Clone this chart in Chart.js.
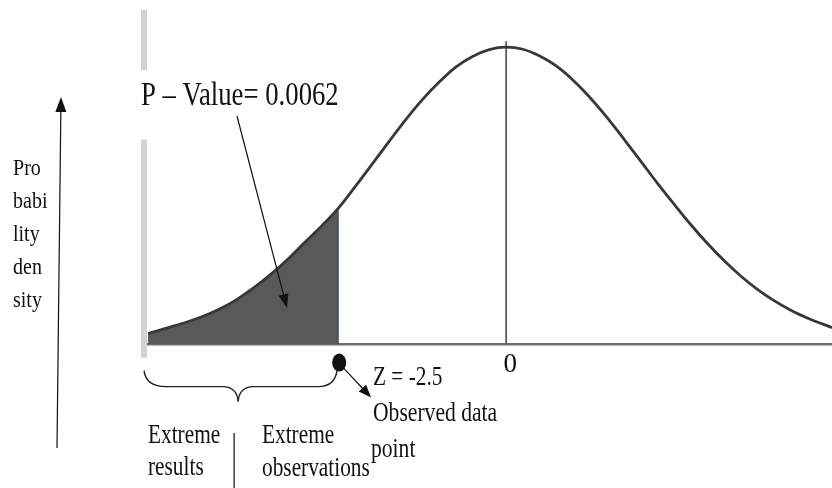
<!DOCTYPE html>
<html lang="en">
<head>
<meta charset="UTF-8">
<title>P-Value</title>
<script src="https://cdn.jsdelivr.net/npm/chart.js"></script>
<style>
  html, body { margin: 0; padding: 0; background: #fff; }
  .wrap { width: 832px; height: 488px; position: relative; }
</style>
</head>
<body>
<div class="wrap"><canvas id="pvalueChart"></canvas></div>
<script>
// bell curve, heights relative to the peak, read every quarter step of z
const zValues = [-5.33, -5.0, -4.75, -4.5, -4.25, -4.0, -3.75, -3.5, -3.25, -3.0, -2.75, -2.5,
                 -2.25, -2.0, -1.75, -1.5, -1.25, -1.0, -0.75, -0.5, -0.25, 0,
                 0.25, 0.5, 0.75, 1.0, 1.25, 1.5, 1.75, 2.0, 2.25, 2.5, 2.75, 3.0,
                 3.25, 3.5, 3.75, 4.0, 4.25, 4.5, 4.85];
const density = [0.037, 0.059, 0.076, 0.096, 0.121, 0.153, 0.192, 0.237, 0.287, 0.343, 0.398, 0.458,
                 0.530, 0.605, 0.681, 0.755, 0.823, 0.882, 0.933, 0.969, 0.992, 1.0,
                 0.993, 0.970, 0.936, 0.888, 0.830, 0.764, 0.692, 0.618, 0.543, 0.472, 0.403, 0.339,
                 0.281, 0.229, 0.184, 0.146, 0.114, 0.088, 0.057];
const observedZ = -2.5;
const pValue = '0.0062';
const xTicks = [0];
const leftLabel = ['Pro', 'babi', 'lity', 'den', 'sity'];

const curve = zValues.map((z, i) => ({ x: z, y: density[i] }));
const tail = curve.filter(p => p.x <= observedZ);
const tailTop = density[zValues.indexOf(observedZ)];

const SERIF = '"Liberation Serif", "Times New Roman", serif';

// narrow serif text, squeezed horizontally
function squeezed(ctx, text, px, py, size, sx) {
    ctx.save();
    ctx.font = size + 'px ' + SERIF;
    ctx.fillStyle = '#111';
    ctx.textBaseline = 'alphabetic';
    ctx.translate(px, py);
    ctx.scale(sx, 1);
    ctx.fillText(text, 0, 0);
    ctx.restore();
}

function arrow(ctx, x1, y1, x2, y2, len, half) {
    const a = Math.atan2(y2 - y1, x2 - x1);
    ctx.beginPath();
    ctx.moveTo(x1, y1);
    ctx.lineTo(x2 - Math.cos(a) * len * 0.8, y2 - Math.sin(a) * len * 0.8);
    ctx.stroke();
    ctx.beginPath();
    ctx.moveTo(x2, y2);
    ctx.lineTo(x2 - Math.cos(a) * len - Math.sin(a) * half, y2 - Math.sin(a) * len + Math.cos(a) * half);
    ctx.lineTo(x2 - Math.cos(a) * len + Math.sin(a) * half, y2 - Math.sin(a) * len - Math.cos(a) * half);
    ctx.closePath();
    ctx.fill();
}

const annotations = {
    id: 'annotations',
    afterDraw(chart) {
        const { ctx, scales: { x, y } } = chart;
        const base = y.getPixelForValue(0);
        const xo = x.getPixelForValue(observedZ);
        const xl = x.getPixelForValue(zValues[0]) - 4;

        ctx.save();
        ctx.strokeStyle = '#111';
        ctx.fillStyle = '#111';
        ctx.lineWidth = 1.2;

        // vertical arrow for the density axis
        arrow(ctx, 57, 448, 61, 97, 15, 5.5);

        leftLabel.forEach((t, i) => squeezed(ctx, t, 13, 175 + i * 33, 23, 0.87));

        squeezed(ctx, 'P \u2013 Value= ' + pValue, 141, 105, 33, 0.81);
        arrow(ctx, 237, 116, 287, 308, 14, 5);

        // observed point below the axis
        ctx.beginPath();
        ctx.ellipse(xo + 1, base + 18, 7, 9, 0, 0, Math.PI * 2);
        ctx.fill();
        arrow(ctx, xo + 5, base + 23, xo + 33, base + 53, 13, 5);

        squeezed(ctx, 'Z = ' + observedZ, 373, 385, 27, 0.79);
        squeezed(ctx, 'Observed data', 373, 421, 27, 0.8);
        squeezed(ctx, 'point', 371, 457, 27, 0.8);

        // brace under the tail
        const mid = (xl + xo) / 2 - 3;
        ctx.lineWidth = 1.4;
        ctx.strokeStyle = '#222';
        ctx.beginPath();
        ctx.moveTo(xl, base + 26);
        ctx.quadraticCurveTo(xl + 2, base + 42, xl + 22, base + 42);
        ctx.lineTo(mid - 14, base + 42);
        ctx.quadraticCurveTo(mid - 1, base + 43, mid, base + 57);
        ctx.quadraticCurveTo(mid + 1, base + 43, mid + 14, base + 42);
        ctx.lineTo(xo - 20, base + 42);
        ctx.quadraticCurveTo(xo - 3, base + 42, xo - 1, base + 25);
        ctx.stroke();

        ctx.lineWidth = 1.2;
        ctx.strokeStyle = '#111';
        ctx.beginPath();
        ctx.moveTo(mid - 4, 433);
        ctx.lineTo(mid - 4, 488);
        ctx.stroke();

        squeezed(ctx, 'Extreme', 148, 443, 27, 0.79);
        squeezed(ctx, 'results', 148, 475, 27, 0.79);
        squeezed(ctx, 'Extreme', 262, 443, 27, 0.79);
        squeezed(ctx, 'observations', 262, 476, 27, 0.79);
        ctx.restore();
    }
};

new Chart(document.getElementById('pvalueChart'), {
    type: 'line',
    data: {
        datasets: [
            {
                data: curve,
                borderColor: '#383838',
                borderWidth: 2.8,
                pointRadius: 0,
                cubicInterpolationMode: 'monotone',
                fill: false,
                order: 1
            },
            {
                data: [{ x: 0, y: 0 }, { x: 0, y: 1.02 }],
                borderColor: '#5a5a5a',
                borderWidth: 1.8,
                pointRadius: 0,
                order: 2
            },
            {
                data: [{ x: observedZ, y: 0 }, { x: observedZ, y: tailTop }],
                borderColor: '#2b3c64',
                borderWidth: 1,
                pointRadius: 0,
                order: 3
            },
            {
                data: tail,
                borderColor: '#2b3c64',
                borderWidth: 1,
                backgroundColor: '#595959',
                pointRadius: 0,
                cubicInterpolationMode: 'monotone',
                fill: 'origin',
                order: 4
            },
            {
                // light grey bar at the left edge, broken near the top
                data: [{ x: -5.39, y: 1.125 }, { x: -5.39, y: 0.923 }, { x: -5.39, y: null },
                       { x: -5.39, y: 0.69 }, { x: -5.39, y: -0.044 }],
                borderColor: '#d2d2d2',
                borderWidth: 6,
                borderCapStyle: 'butt',
                pointRadius: 0,
                spanGaps: false,
                clip: false,
                order: 5
            }
        ]
    },
    options: {
        responsive: true,
        maintainAspectRatio: false,
        animation: false,
        layout: { padding: { left: 142, top: 10, right: 0, bottom: 103 } },
        plugins: { legend: { display: false }, tooltip: { enabled: false } },
        scales: {
            x: {
                type: 'linear',
                min: -5.42,
                max: 4.85,
                afterBuildTicks: axis => { axis.ticks = xTicks.map(v => ({ value: v })); },
                grid: { display: false, drawTicks: false },
                border: { display: true, color: '#707070', width: 2.5 },
                ticks: {
                    padding: 4,
                    labelOffset: 4,
                    color: '#111',
                    font: { family: SERIF, size: 27 }
                }
            },
            y: {
                display: false,
                min: 0,
                max: 1.125
            }
        }
    },
    plugins: [annotations]
});
</script>
</body>
</html>
